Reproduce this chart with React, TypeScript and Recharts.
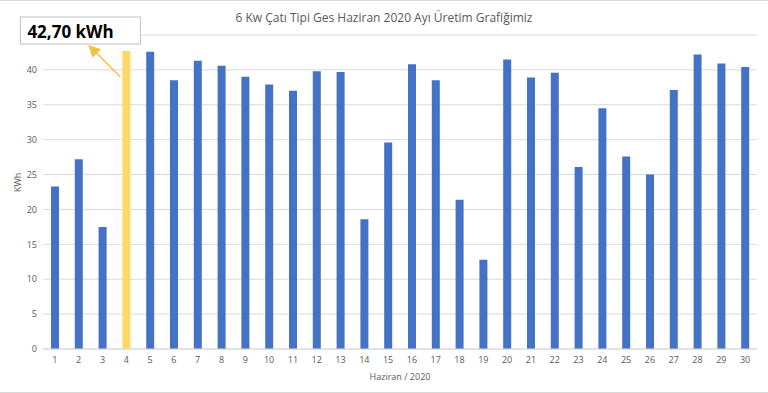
import React from 'react'
import { BarChart, Bar, XAxis, YAxis, CartesianGrid, Cell, LabelList } from 'recharts'

// June 2020 daily production, kWh
const days = [
  1, 2, 3, 4, 5, 6, 7, 8, 9, 10, 11, 12, 13, 14, 15,
  16, 17, 18, 19, 20, 21, 22, 23, 24, 25, 26, 27, 28, 29, 30,
]
const production = [
  23.3, 27.2, 17.5, 42.7, 42.6, 38.5, 41.3, 40.6, 39.0, 37.9, 37.0, 39.8, 39.7, 18.6, 29.6,
  40.8, 38.5, 21.4, 12.8, 41.5, 38.9, 39.6, 26.1, 34.5, 27.6, 25.0, 37.1, 42.2, 40.9, 40.4,
]
const yTicks = [0, 5, 10, 15, 20, 25, 30, 35, 40, 45]
const highlightDay = 4
const calloutText = '42,70 kWh'

const chartData = days.map((d, i) => ({ day: String(d), kwh: production[i] }))

const BLUE = '#4472C4'
const GOLD = '#FFD966'
const GRID = '#D9D9D9'
const TEXT = '#595959'
const FONT = '"Open Sans", "Liberation Sans", sans-serif'

function Callout(props: any) {
  const { x, y, width, index } = props
  if (days[index] !== highlightDay) return null
  const cx = x + width / 2
  return (
    <g>
      <defs>
        <marker id="arrowHead" markerWidth="8" markerHeight="8" refX="6" refY="4" orient="auto">
          <path d="M0,0 L8,4 L0,8 z" fill="#EFC23F" />
        </marker>
      </defs>
      <line
        x1={cx - 6}
        y1={y + 26}
        x2={cx - 36}
        y2={y - 4}
        stroke="#EFC23F"
        strokeWidth={1.5}
        markerEnd="url(#arrowHead)"
      />
      <rect x={cx - 106} y={y - 34} width={120} height={27} fill="#fff" stroke="#BFBFBF" strokeWidth={1} />
      <text x={cx - 99} y={y - 13} fontSize={17} fontWeight={700} fill="#000" fontFamily={FONT}>
        {calloutText}
      </text>
    </g>
  )
}

export default function App() {
  return (
    <div
      style={{
        position: 'fixed',
        left: 0,
        top: 0,
        width: 768,
        height: 393,
        background: '#fff',
        boxSizing: 'border-box',
        borderTop: `1px solid ${GRID}`,
        borderBottom: `1px solid ${GRID}`,
        fontFamily: FONT,
      }}
    >
      <div
        style={{
          position: 'absolute',
          top: 8,
          left: 0,
          width: 768,
          textAlign: 'center',
          fontSize: 12,
          color: TEXT,
        }}
      >
        6 Kw Çatı Tipi Ges Haziran 2020 Ayı Üretim Grafiğimiz
      </div>
      <div style={{ position: 'absolute', left: 0, top: -1 }}>
        <BarChart
          width={768}
          height={393}
          data={chartData}
          margin={{ top: 35, right: 11, left: 0, bottom: 0 }}
        >
          <CartesianGrid stroke={GRID} vertical={false} />
          <XAxis
            dataKey="day"
            height={44}
            tickLine={false}
            axisLine={{ stroke: GRID }}
            tick={{ fontSize: 9, fill: TEXT, fontFamily: FONT }}
            interval={0}
            label={{
              value: 'Haziran / 2020',
              position: 'insideBottom',
              offset: 13,
              fontSize: 9,
              fill: TEXT,
              fontFamily: FONT,
            }}
          />
          <YAxis
            width={43}
            domain={[0, 45]}
            ticks={yTicks}
            tickLine={false}
            axisLine={false}
            tickMargin={0}
            // the top label sits under the callout box in the original
            tickFormatter={(v: number) => (v === 45 ? '' : String(v))}
            tick={{ fontSize: 9, fill: TEXT, fontFamily: FONT }}
            label={{
              value: 'KWh',
              angle: -90,
              position: 'insideLeft',
              offset: 18,
              fontSize: 9,
              fill: TEXT,
              fontFamily: FONT,
            }}
          />
          <Bar dataKey="kwh" barSize={8} isAnimationActive={false}>
            {chartData.map((d) => (
              <Cell key={d.day} fill={Number(d.day) === highlightDay ? GOLD : BLUE} />
            ))}
            <LabelList dataKey="kwh" content={Callout} />
          </Bar>
        </BarChart>
      </div>
    </div>
  )
}
